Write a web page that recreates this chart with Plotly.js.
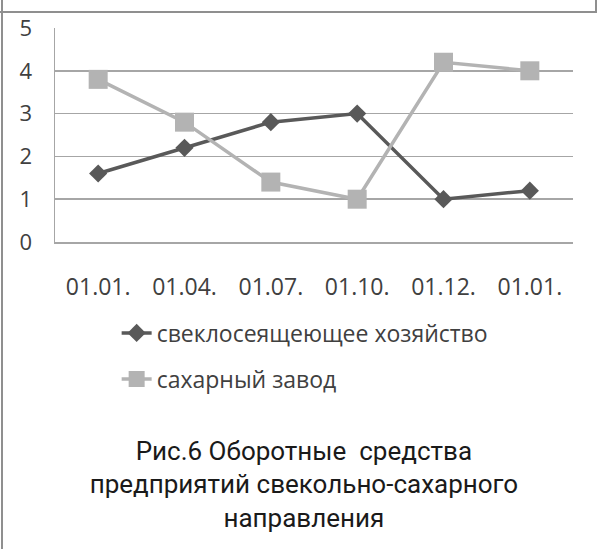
<!DOCTYPE html>
<html>
<head>
<meta charset="utf-8">
<script src="https://cdn.plot.ly/plotly-3.0.1.min.js"></script>
<style>
  html, body { margin: 0; padding: 0; background: #ffffff; }
  #wrap { position: relative; width: 597px; height: 549px; overflow: hidden; }
  #chart { position: absolute; left: 0; top: 0; width: 597px; height: 549px; }
  .frame { position: absolute; pointer-events: none; background: #8f8f8f; }
</style>
</head>
<body>
<div id="wrap">
  <div id="chart"></div>
  <div class="frame" style="left:1px; top:0; width:2px; height:549px;"></div>
  <div class="frame" style="left:0; top:11px; width:597px; height:2px;"></div>
  <div class="frame" style="left:595px; top:0; width:2px; height:12px;"></div>
</div>
<script>
// Dates of the reporting points
const dates = ["01.01.", "01.04.", "01.07.", "01.10.", "01.12.", "01.01."];
const positions = [0, 1, 2, 3, 4, 5];

// Working capital by enterprise type
const farmName = "свеклосеящеющее хозяйство";
const farmValues = [1.6, 2.2, 2.8, 3.0, 1.0, 1.2];

const factoryName = "сахарный завод";
const factoryValues = [3.8, 2.8, 1.4, 1.0, 4.2, 4.0];

const titleLines = [
  "Рис.6 Оборотные  средства",
  "предприятий свекольно-сахарного",
  "направления"
];

const textFont = "Open Sans, DejaVu Sans, sans-serif";

const traces = [
  {
    x: positions, y: farmValues, name: farmName,
    type: "scatter", mode: "lines+markers",
    line: { color: "#595959", width: 3.5 },
    marker: { symbol: "diamond", size: 14, color: "#595959" },
    legend: "legend"
  },
  {
    x: positions, y: factoryValues, name: factoryName,
    type: "scatter", mode: "lines+markers",
    line: { color: "#b3b3b3", width: 3.5 },
    marker: { symbol: "square", size: 19, color: "#b3b3b3" },
    legend: "legend2"
  }
];

const layout = {
  width: 597, height: 549,
  margin: { l: 55, r: 24, t: 28, b: 307 },
  paper_bgcolor: "#ffffff",
  plot_bgcolor: "#ffffff",
  showlegend: true,
  title: {
    text: titleLines.join("<br>"),
    font: { family: "Liberation Sans Narrow, Arial Narrow, Roboto, sans-serif", size: 26, color: "#1a1a1a" },
    xref: "container", x: 0.509, xanchor: "center",
    yref: "container", y: 0.163, yanchor: "middle"
  },
  xaxis: {
    range: [-0.5, 5.5],
    tickmode: "array", tickvals: positions, ticktext: dates,
    showgrid: false, zeroline: false,
    showline: true, linecolor: "#a6a6a6", linewidth: 1.5,
    ticks: "", ticklabelstandoff: 24,
    tickfont: { family: textFont, size: 23, color: "#404040" },
    fixedrange: true
  },
  yaxis: {
    range: [0, 5], dtick: 1, tick0: 0,
    showgrid: true, gridcolor: "#a6a6a6", gridwidth: 1.5,
    zeroline: false,
    showline: true, linecolor: "#a6a6a6", linewidth: 1.5,
    ticks: "", ticklabelstandoff: 17,
    tickfont: { family: textFont, size: 22, color: "#404040" },
    fixedrange: true
  },
  legend: {
    x: 0.119, y: -0.425, xanchor: "left", yanchor: "middle",
    font: { family: textFont, size: 23, color: "#404040" },
    bgcolor: "rgba(0,0,0,0)", borderwidth: 0
  },
  legend2: {
    x: 0.119, y: -0.64, xanchor: "left", yanchor: "middle",
    font: { family: textFont, size: 23, color: "#404040" },
    bgcolor: "rgba(0,0,0,0)", borderwidth: 0
  }
};

Plotly.newPlot("chart", traces, layout, { displayModeBar: false, staticPlot: true });
</script>
</body>
</html>
